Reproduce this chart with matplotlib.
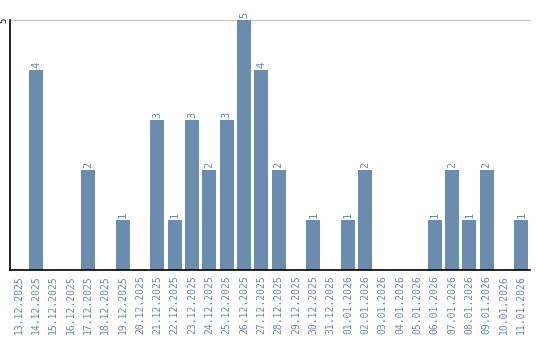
import matplotlib
matplotlib.use("Agg")
import matplotlib.pyplot as plt

dates = ["13.12.2025", "14.12.2025", "15.12.2025", "16.12.2025", "17.12.2025",
         "18.12.2025", "19.12.2025", "20.12.2025", "21.12.2025", "22.12.2025",
         "23.12.2025", "24.12.2025", "25.12.2025", "26.12.2025", "27.12.2025",
         "28.12.2025", "29.12.2025", "30.12.2025", "31.12.2025", "01.01.2026",
         "02.01.2026", "03.01.2026", "04.01.2026", "05.01.2026", "06.01.2026",
         "07.01.2026", "08.01.2026", "09.01.2026", "10.01.2026", "11.01.2026"]
counts = [0, 4, 0, 0, 2, 0, 1, 0, 3, 1, 3, 2, 3, 5, 4, 2, 0, 1, 0, 1,
          2, 0, 0, 0, 1, 2, 1, 2, 0, 1]

bar_color = '#6a8caf'
text_color = '#6a8caf'
plt.rcParams['font.family'] = 'DejaVu Sans Mono'

fig = plt.figure(figsize=(5.4, 3.4), dpi=100)
ax = fig.add_axes([10/540, 70/340, 520/540, 250/340])

x = range(len(dates))
ax.bar(x, counts, width=0.82, color=bar_color, zorder=2)

# value labels above the bars
for i, v in enumerate(counts):
  if v > 0:
    ax.text(i, v + 0.04, str(v), rotation=90, ha='center', va='bottom',
            fontsize=7.5, color=text_color)

ax.set_xlim(-0.5, len(dates) - 0.5)
ax.set_ylim(0, 5)
ax.set_xticks(list(x))
ax.set_xticklabels(dates, rotation=90, fontsize=7, color=text_color)
ax.set_yticks([5])
ax.set_yticklabels(['5'], rotation=90, fontsize=6.5, va='center', ha='right')
ax.tick_params(axis='x', length=0, pad=4)
ax.tick_params(axis='y', length=0, pad=1.5)
ax.axhline(5, color='#cccccc', lw=1, zorder=1, clip_on=False)

for s in ['top', 'right']:
  ax.spines[s].set_visible(False)
ax.spines['left'].set_linewidth(1.2)
ax.spines['bottom'].set_linewidth(1.2)

fig.savefig('out.png', dpi=100)
